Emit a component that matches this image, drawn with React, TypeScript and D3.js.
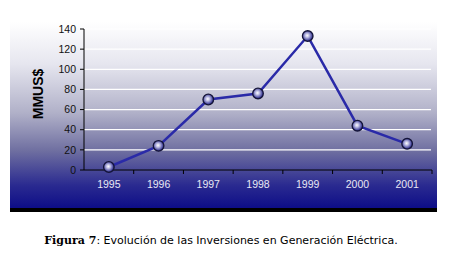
import React from "react";
import * as d3 from "d3";

const years = ["1995", "1996", "1997", "1998", "1999", "2000", "2001"];
const values = [3, 24, 70, 76, 133, 44, 26];
const yTicks = [0, 20, 40, 60, 80, 100, 120, 140];
const yTitle = "MMUS$";
const captionBold = "Figura 7";
const captionRest = ": Evolución de las Inversiones en Generación Eléctrica.";

export default function App() {
  const W = 449, H = 254;
  const x = d3.scaleBand().domain(years).range([84, 432]);
  const y = d3.scaleLinear().domain([0, 140]).range([170, 29]);
  const line = d3.line<number>()
    .x((_, i) => (x(years[i]) as number) + x.bandwidth() / 2)
    .y((d) => y(d));
  const bandEdges = years.map((yr) => (x(yr) as number) + x.bandwidth());
  const sans = "'Liberation Sans', Arial, sans-serif";
  return (
    <svg width={W} height={H} style={{ position: "absolute", left: 0, top: 0, background: "#fff" }}>
      <defs>
        <linearGradient id="bg" x1="0" y1="0" x2="0" y2="1">
          <stop offset="0" stopColor="#ffffff" />
          <stop offset="0.22" stopColor="#e6e6ef" />
          <stop offset="0.48" stopColor="#b0b0c8" />
          <stop offset="0.68" stopColor="#6e6ea0" />
          <stop offset="0.86" stopColor="#2a2a90" />
          <stop offset="1" stopColor="#080886" />
        </linearGradient>
        <radialGradient id="mk" cx="0.45" cy="0.45" r="0.6">
          <stop offset="0" stopColor="#ffffff" />
          <stop offset="0.3" stopColor="#c0c0e4" />
          <stop offset="0.8" stopColor="#3c3c98" />
          <stop offset="1" stopColor="#1c1c58" />
        </radialGradient>
      </defs>
      <rect x={10} y={22} width={427} height={190} fill="url(#bg)" />
      <rect x={10} y={208} width={427} height={4} fill="#000" />
      {yTicks.filter((t) => t > 0).map((t) => (
        <line key={t} x1={84} x2={431} y1={y(t)} y2={y(t)} stroke="#ffffff" strokeWidth={1.2} />
      ))}
      <line x1={84} x2={84} y1={y(140)} y2={y(0)} stroke="#000" strokeWidth={1} />
      <line x1={84} x2={432} y1={y(0)} y2={y(0)} stroke="#000" strokeWidth={1} />
      {yTicks.map((t) => (
        <g key={t}>
          <line x1={80} x2={84} y1={y(t)} y2={y(t)} stroke="#000" />
          <text x={76} y={y(t)} dy="0.35em" textAnchor="end" fontFamily={sans} fontSize={10.5} fill="#111">{t}</text>
        </g>
      ))}
      {bandEdges.map((e, i) => (
        <line key={i} x1={e} x2={e} y1={y(0)} y2={y(0) + 4} stroke="#000" />
      ))}
      {years.map((yr) => (
        <text key={yr} x={(x(yr) as number) + x.bandwidth() / 2} y={184} dy="0.35em" textAnchor="middle" fontFamily={sans} fontSize={10.5} fill="#e8e8f4">{yr}</text>
      ))}
      <text transform="translate(43,94) rotate(-90)" textAnchor="middle" fontFamily={sans} fontWeight="bold" fontSize={14} fill="#000">{yTitle}</text>
      <path d={line(values) || ""} fill="none" stroke="#2a2aa8" strokeWidth={2.5} />
      {values.map((v, i) => (
        <circle key={i} cx={(x(years[i]) as number) + x.bandwidth() / 2} cy={y(v)} r={5.3} fill="url(#mk)" stroke="#141438" strokeWidth={1.3} />
      ))}
      <text x={221} y={244} textAnchor="middle" fill="#000">
        <tspan fontFamily="'DejaVu Serif', serif" fontWeight="bold" fontSize={11}>{captionBold}</tspan>
        <tspan fontFamily="'DejaVu Sans', sans-serif" fontSize={11}>{captionRest}</tspan>
      </text>
    </svg>
  );
}
